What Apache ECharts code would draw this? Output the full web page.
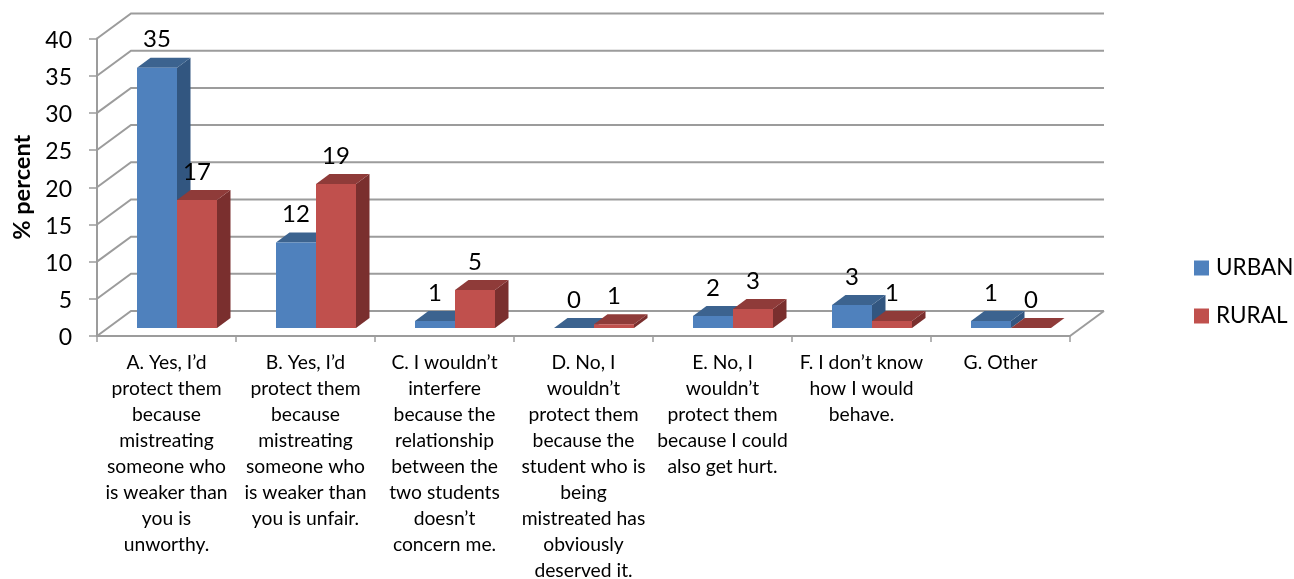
<!DOCTYPE html>
<html><head><meta charset="utf-8">
<style>html,body{margin:0;padding:0;background:#fff}#c{width:1294px;height:579px}</style>
<script src="https://cdn.jsdelivr.net/npm/echarts@6/dist/echarts.min.js"></script>
</head><body><div id="c"></div>
<script>
const categories = [
 "A. Yes, I’d\nprotect them\nbecause\nmistreating\nsomeone who\nis weaker than\nyou is\nunworthy.",
 "B. Yes, I’d\nprotect them\nbecause\nmistreating\nsomeone who\nis weaker than\nyou is unfair.",
 "C. I wouldn’t\ninterfere\nbecause the\nrelationship\nbetween the\ntwo students\ndoesn’t\nconcern me.",
 "D. No, I\nwouldn’t\nprotect them\nbecause the\nstudent who is\nbeing\nmistreated has\nobviously\ndeserved it.",
 "E. No, I\nwouldn’t\nprotect them\nbecause I could\nalso get hurt.",
 "F. I don’t know\nhow I would\nbehave.",
 "G. Other"
];
const urban = [35, 11.5, 0.95, 0, 1.6, 3.1, 0.95];
const rural = [17.2, 19.35, 5.1, 0.5, 2.55, 0.95, 0];
const yTicks = [0,5,10,15,20,25,30,35,40];
const FONT = 'Lato, "Open Sans", sans-serif';
const WALL = [34,-25], DEPTH = [13.5,-10], SHIFT = [10.5,-8], BAR_W = 40;
const GRIDC = '#9c9c9c';

function wallItem(params, api){
  const r = params.coordSys, v = api.value(0), p = api.coord([0,v]);
  const x0 = r.x, x1 = r.x + r.width, y = p[1];
  const ls = {stroke:GRIDC, lineWidth:2, fill:null};
  const kids = [
    {type:'polyline', shape:{points:[[x0,y],[x0+WALL[0],y+WALL[1]],[x1+WALL[0],y+WALL[1]]]}, style:ls}
  ];
  if(v===0) kids.push({type:'line', shape:{x1:x1,y1:y,x2:x1+WALL[0],y2:y+WALL[1]}, style:ls});
  return {type:'group', children:kids};
}
function barRenderer(side, top, fore, sideC){
  return function(params, api){
    const i = api.value(0), v = api.value(1);
    const b = api.coord([i,0]), t = api.coord([i,v]);
    const x0 = b[0] + SHIFT[0] + (side<0 ? -BAR_W : 0), x1 = x0 + BAR_W;
    const y0 = b[1] + SHIFT[1], y1 = t[1] + SHIFT[1];
    const dx = DEPTH[0], dy = DEPTH[1];
    return {type:'group', children:[
      {type:'polygon', shape:{points:[[x1,y0],[x1+dx,y0+dy],[x1+dx,y1+dy],[x1,y1]]}, style:{fill:sideC}},
      {type:'polygon', shape:{points:[[x0,y1],[x0+dx,y1+dy],[x1+dx,y1+dy],[x1,y1]]}, style:{fill:top}},
      {type:'rect', shape:{x:x0,y:y1,width:BAR_W,height:y0-y1}, style:{fill:fore}},
      {type:'text', z2:50, style:{x:(x0+x1)/2, y:y1-28, text:String(Math.round(v)), fill:'#000',
        font:'24px '+FONT, align:'center', verticalAlign:'middle'}}
    ]};
  };
}
const toData = a => a.map((v,i)=>[i,v]);
const chart = echarts.init(document.getElementById('c'), null, {renderer:'canvas'});
chart.setOption({
  animation:false,
  backgroundColor:'#fff',
  textStyle:{fontFamily:FONT},
  grid:{left:97, right:224, top:38.5, bottom:243, containLabel:false, outerBoundsMode:'none'},
  legend:{
    data:['URBAN','RURAL'], orient:'vertical', left:1189, top:251.5, itemWidth:15, itemHeight:15,
    itemGap:25, icon:'rect', textStyle:{fontSize:22.5, color:'#000', fontFamily:FONT, padding:[0,0,0,2]}
  },
  xAxis:{type:'category', data:categories,
    axisLine:{lineStyle:{color:GRIDC,width:2}},
    axisTick:{show:true, length:6, lineStyle:{color:GRIDC,width:1.5}},
    axisLabel:{interval:0, color:'#000', fontSize:19.3, lineHeight:26, margin:14, fontFamily:FONT, verticalAlign:'top'},
    splitLine:{show:false}
  },
  yAxis:{type:'value', min:0, max:40, interval:5,
    name:'% percent', nameLocation:'middle', nameGap:62.5,
    nameTextStyle:{fontSize:23.6, fontWeight:'bold', color:'#000', fontFamily:FONT},
    axisLine:{show:true, lineStyle:{color:GRIDC,width:2}},
    axisTick:{show:true, length:8, lineStyle:{color:GRIDC,width:1.5}},
    axisLabel:{color:'#000', fontSize:23, margin:25, verticalAlign:'top', lineHeight:4, fontFamily:FONT},
    splitLine:{show:false}
  },
  series:[
    {type:'custom', name:'walls', data:yTicks.map(v=>[v]), renderItem:wallItem, clip:false, z:1, silent:true, encode:{y:0}},
    {type:'custom', name:'URBAN', data:toData(urban), itemStyle:{color:'#4f81bd'}, z:3, clip:false,
      renderItem:barRenderer(-1,'#3c638f','#4f81bd','#325680'), encode:{x:0,y:1}},
    {type:'custom', name:'RURAL', data:toData(rural), itemStyle:{color:'#c0504d'}, z:4, clip:false,
      renderItem:barRenderer(1,'#8f3b39','#c0504d','#7a2f2e'), encode:{x:0,y:1}}
  ]
});
</script></body></html>
